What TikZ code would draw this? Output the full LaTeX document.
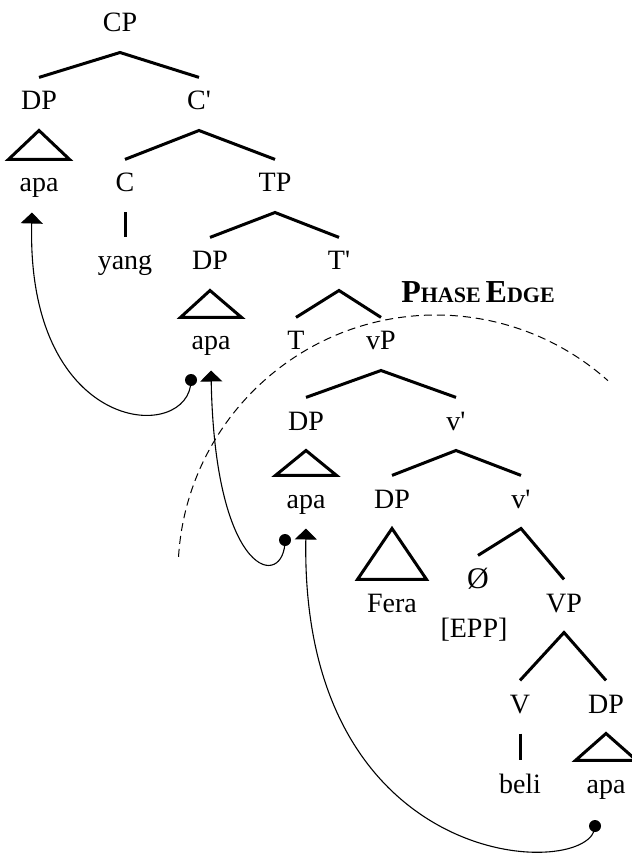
\documentclass[tikz,border=0pt]{standalone}
\usepackage{fontspec}
\setmainfont{Liberation Serif}
\usetikzlibrary{arrows.meta}
\newcommand{\prm}{\textquotesingle}
\newcommand{\phasecap}[2]{{\fontsize{16}{18}\selectfont #1}{\fontsize{11}{13}\selectfont #2}}
\tikzset{
    lab/.style={font=\fontsize{14}{16}\selectfont, inner sep=0pt, text height=9.3pt, text depth=3.25pt, outer sep=0pt, outer ysep=7pt, anchor=base},
    branch/.style={line width=1.5pt},
    move/.style={line width=0.55pt, -{Triangle[width=11pt,length=5.5pt]}},
    trace/.style={circle, fill, inner sep=0pt, minimum size=6pt}
}

\begin{document}
\begin{tikzpicture}[x=0.5pt,y=-0.5pt]
            \useasboundingbox (0,0) rectangle (631,855);
            \node[lab] (cp) at (120,32) {CP};
            \node[lab] (dpa) at (39,110) {DP};
            \node[lab] (cbar) at (199,110) {C\prm};
            \node[lab] (apaa) at (39,192) {apa};
            \node[lab] (c) at (125,192) {C};
            \node[lab] (tp) at (275,192) {TP};
            \node[lab] (yang) at (125,270) {yang};
            \node[lab] (dpb) at (210,270) {DP};
            \node[lab] (tbar) at (339,270) {T\prm};
            \node[lab] (apab) at (211,350) {apa};
            \node[lab] (t) at (296,350) {T};
            \node[lab] (vp) at (381,350) {vP};
            \node[lab] (dpc) at (306,430) {DP};
            \node[lab] (vbara) at (456,430) {v\prm};
            \node[lab] (apac) at (306,508) {apa};
            \node[lab] (dpd) at (392,508) {DP};
            \node[lab] (vbarb) at (521,508) {v\prm};
            \node[lab, font=\fontsize{15}{17}\selectfont] (nul) at (478,588) {Ø};
            \node[lab] (epp) at (474,637) {[EPP]};
            \node[lab] (fera) at (392,612) {Fera};
            \node[lab] (vpp) at (564,612) {VP};
            \node[lab] (v) at (520,713) {V};
            \node[lab] (dpe) at (606,713) {DP};
            \node[lab] (beli) at (520,793) {beli};
            \node[lab] (apae) at (606,793) {apa};
            \node[anchor=base, inner sep=0pt, font=\bfseries] (edge) at (478,302) {\phasecap{P}{HASE} \phasecap{E}{DGE}};
            \foreach \p/\a/\b in {cp/dpa/cbar, cbar/c/tp, tp/dpb/tbar, tbar/t/vp, vp/dpc/vbara, vbara/dpd/vbarb, vbarb/nul/vpp, vpp/v/dpe}
                \draw[branch] (\a.north) -- (\p.south) -- (\b.north);
            \foreach \a/\b in {c/yang, v/beli}
                \draw[branch] (\a.south) -- (\b.north);
            \foreach \d/\e/\s in {dpa/apaa/15.25pt, dpb/apab/15.25pt, dpc/apac/15.25pt, dpd/fera/17.25pt, dpe/apae/15.25pt}
                \draw[branch] (\d.south) -- ([xshift=-\s]\e.north) -- ([xshift=\s]\e.north) -- cycle;
            \draw[dashed, line width=0.5pt, dash pattern=on 4pt off 2.5pt] (436,573) ++(183.6:258) arc[start angle=183.6, end angle=311.8, radius=258];
            \node[trace] (ta) at (191,380) {};
            \node[trace] (tb) at (285,540) {};
            \node[trace] (tc) at (595,826) {};
            \draw[move] (ta.center) .. controls +(0,64) and +(-6,225) .. ([xshift=-3.5pt]apaa.south);
            \draw[move] (tb.center) .. controls +(0,50) and +(4,210) .. (apab.south);
            \draw[move] (tc.center) .. controls +(0,54) and +(-6,351) .. (apac.south);
\end{tikzpicture}
\end{document}
